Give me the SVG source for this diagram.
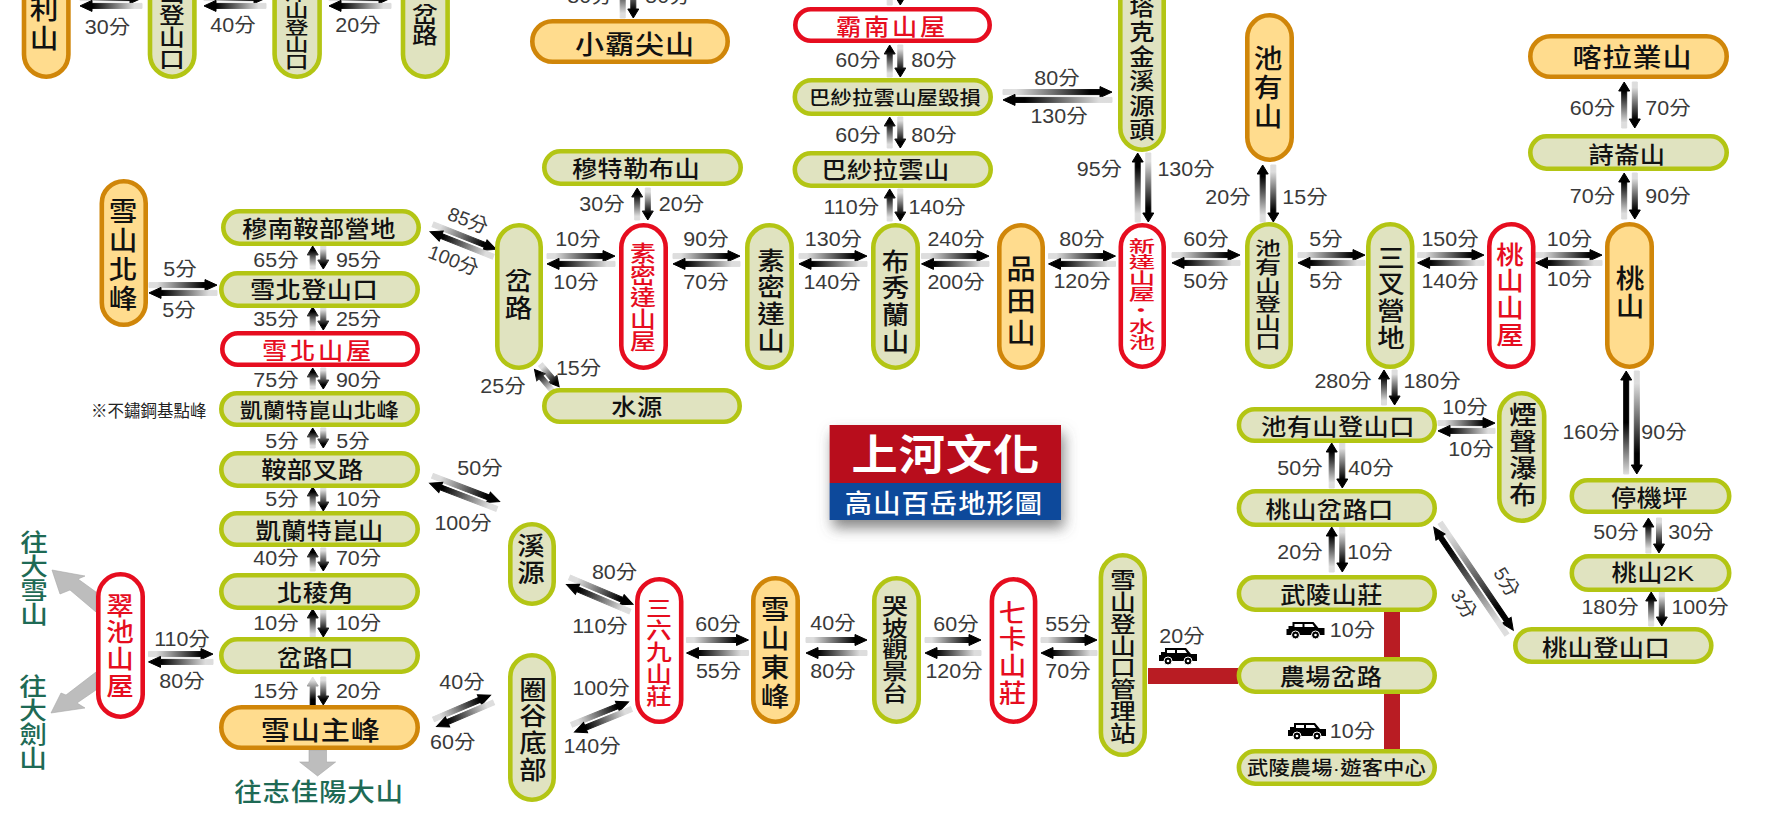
<svg xmlns="http://www.w3.org/2000/svg" width="1765" height="823" viewBox="0 0 1765 823">
<style>
.g{fill:#e0e3c0;stroke:#b3c514;stroke-width:4.6}
.o{fill:#ffdc8e;stroke:#d08609;stroke-width:4.6}
.r{fill:#fff;stroke:#e60d1f;stroke-width:4.6}
text{text-anchor:middle;dominant-baseline:central;font-family:"Noto Sans CJK TC","Noto Sans CJK SC",sans-serif;transform-box:fill-box;transform-origin:center}
.t{font-size:22.5px;letter-spacing:.4px;font-weight:500;fill:#111;transform:scaleX(1.12)}
.x{font-family:"Liberation Sans","Noto Sans CJK TC",sans-serif}
.m{font-size:26px;letter-spacing:.8px}
.p{font-size:19px;letter-spacing:.2px}
.q{font-size:20px;letter-spacing:.3px}
.red{fill:#e60d1f}
.h{font-size:22.5px;letter-spacing:2.5px}
.v{writing-mode:vertical-rl;transform:none}
.v24{font-size:25px;letter-spacing:1.7px;transform:scaleX(1.1)}
.v26{font-size:26.5px;letter-spacing:2.5px;transform:scaleX(1.08)}
.v21{font-size:21.5px;letter-spacing:.4px;transform:scaleX(1.2)}
.v18{font-size:18.5px;letter-spacing:.1px;transform:scaleX(1.4)}
.v16{font-size:16px;letter-spacing:0;transform:scaleX(1.65)}
.l{font-family:"Liberation Sans","Noto Sans CJK TC",sans-serif;font-size:19.5px;fill:#3a3a3a}
.l:not([transform]){transform:scaleX(1.1)}
.l[transform]{transform-box:view-box;transform-origin:0 0}
.dest{font-size:24px;fill:#1e6a55;font-weight:500}
.dest.v{transform:scaleX(1.15)}
.f{fill:url(#gf);stroke:url(#gf)}.b{fill:url(#gb);stroke:url(#gb)}.k{fill:url(#gk);stroke:url(#gk)}
.bar{fill:#b91c23}
.out{fill:#bdbdbd;stroke:#a8a8a8;stroke-width:.6}
</style>
<defs>
<linearGradient id="gf"><stop offset=".12" stop-color="#ddd"/><stop offset=".8" stop-color="#000"/></linearGradient>
<linearGradient id="gb"><stop offset=".2" stop-color="#000"/><stop offset=".88" stop-color="#ddd"/></linearGradient>
<linearGradient id="gk"><stop offset="0" stop-color="#ddd"/><stop offset=".5" stop-color="#000"/></linearGradient>
<filter id="sh" x="-20%" y="-30%" width="140%" height="170%"><feDropShadow dx="3" dy="8" stdDeviation="7" flood-color="#555" flood-opacity=".7"/></filter>
<g id="jeep"><path d="M3 4H7V0H28L33 6H39V13H1V7H3Z" fill="#000"/><path d="M9 2H17V5H9ZM19 2H27L29 5H19Z" fill="#fff"/><circle cx="10" cy="13" r="4" fill="#000" stroke="#fff"/><circle cx="30" cy="13" r="4" fill="#000" stroke="#fff"/><circle cx="10" cy="13" r="1.300" fill="#fff"/><circle cx="30" cy="13" r="1.300" fill="#fff"/></g>
</defs>
<rect width="1765" height="823" fill="#fff"/>
<g id="connectors">
<g transform="translate(80 2)"><path class="f" d="M0-6.4h50v-3l12 5.500-12 5.500v-3H0z"/><path class="b" d="M0 3.900l12-5.500v3h50v5H12v3z"/></g>
<g transform="translate(204 2)"><path class="f" d="M0-6.4h50v-3l12 5.500-12 5.500v-3H0z"/><path class="b" d="M0 3.900l12-5.500v3h50v5H12v3z"/></g>
<g transform="translate(329 2)"><path class="f" d="M0-6.4h50v-3l12 5.500-12 5.500v-3H0z"/><path class="b" d="M0 3.900l12-5.500v3h50v5H12v3z"/></g>
<g transform="translate(149 289)"><path class="f" d="M0-6.4h56v-3l12 5.500-12 5.500v-3H0z"/><path class="b" d="M0 3.900l12-5.500v3h56v5H12v3z"/></g>
<g transform="translate(148.500 658)"><path class="f" d="M0-6.4h52.500v-3l12 5.500-12 5.500v-3H0z"/><path class="b" d="M0 3.900l12-5.500v3h52.500v5H12v3z"/></g>
<g transform="translate(547 260)"><path class="f" d="M0-6.4h56v-3l12 5.500-12 5.500v-3H0z"/><path class="b" d="M0 3.900l12-5.500v3h56v5H12v3z"/></g>
<g transform="translate(673 260)"><path class="f" d="M0-6.4h55v-3l12 5.500-12 5.500v-3H0z"/><path class="b" d="M0 3.900l12-5.500v3h55v5H12v3z"/></g>
<g transform="translate(799 260)"><path class="f" d="M0-6.4h56v-3l12 5.500-12 5.500v-3H0z"/><path class="b" d="M0 3.900l12-5.500v3h56v5H12v3z"/></g>
<g transform="translate(921.500 260)"><path class="f" d="M0-6.4h55.500v-3l12 5.500-12 5.500v-3H0z"/><path class="b" d="M0 3.900l12-5.500v3h55.500v5H12v3z"/></g>
<g transform="translate(1048.500 260)"><path class="f" d="M0-6.4h55v-3l12 5.500-12 5.500v-3H0z"/><path class="b" d="M0 3.900l12-5.500v3h55v5H12v3z"/></g>
<g transform="translate(1172 259)"><path class="f" d="M0-6.4h56v-3l12 5.500-12 5.500v-3H0z"/><path class="b" d="M0 3.900l12-5.500v3h56v5H12v3z"/></g>
<g transform="translate(1298 259)"><path class="f" d="M0-6.4h55v-3l12 5.500-12 5.500v-3H0z"/><path class="b" d="M0 3.900l12-5.500v3h55v5H12v3z"/></g>
<g transform="translate(1417.600 259)"><path class="f" d="M0-6.4h54.400v-3l12 5.500-12 5.500v-3H0z"/><path class="b" d="M0 3.900l12-5.500v3h54.400v5H12v3z"/></g>
<g transform="translate(1535.500 259)"><path class="f" d="M0-6.4h54.500v-3l12 5.500-12 5.500v-3H0z"/><path class="b" d="M0 3.900l12-5.500v3h54.500v5H12v3z"/></g>
<g transform="translate(1003 96)"><path class="f" d="M0-6.4h97v-3l12 5.500-12 5.500v-3H0z"/><path class="b" d="M0 3.900l12-5.500v3h97v5H12v3z"/></g>
<g transform="translate(1438 427)"><path class="f" d="M0-6.4h45v-3l12 5.500-12 5.500v-3H0z"/><path class="b" d="M0 3.900l12-5.500v3h45v5H12v3z"/></g>
<g transform="translate(431.500 228) rotate(21.6)"><path class="f" d="M0-6.4h56v-3l12 5.500-12 5.500v-3H0z"/><path class="b" d="M0 3.900l12-5.500v3h56v5H12v3z"/></g>
<g transform="translate(537.500 367) rotate(50)"><path class="f" d="M0-6.4h19v-3l10 5.500-10 5.500v-3H0z"/><path class="b" d="M0 3.900l10-5.500v3h19v5H10v3z"/></g>
<g transform="translate(431 479.500) rotate(21)"><path class="f" d="M0-6.4h60v-3l12 5.500-12 5.500v-3H0z"/><path class="b" d="M0 3.900l12-5.500v3h60v5H12v3z"/></g>
<g transform="translate(568 581) rotate(23)"><path class="f" d="M0-6.4h57v-3l12 5.500-12 5.500v-3H0z"/><path class="b" d="M0 3.900l12-5.500v3h57v5H12v3z"/></g>
<g transform="translate(435 723) rotate(-23)"><path class="f" d="M0-6.4h50v-3l12 5.500-12 5.500v-3H0z"/><path class="b" d="M0 3.900l12-5.500v3h50v5H12v3z"/></g>
<g transform="translate(573 728.500) rotate(-22)"><path class="f" d="M0-6.4h49.500v-3l12 5.500-12 5.500v-3H0z"/><path class="b" d="M0 3.900l12-5.500v3h49.500v5H12v3z"/></g>
<g transform="translate(1437 525) rotate(55.8)"><path class="f" d="M0-6.4h118v-3l12 5.500-12 5.500v-3H0z"/><path class="b" d="M0 3.900l12-5.500v3h118v5H12v3z"/></g>
<g transform="translate(686.500 646.500)"><path class="f" d="M0-9h50v-3l12 5.500-12 5.500v-3H0z"/><path class="b" d="M0 6.500l12-5.500v3h50v5H12v3z"/></g>
<g transform="translate(806 646.500)"><path class="f" d="M0-9h49v-3l12 5.500-12 5.500v-3H0z"/><path class="b" d="M0 6.500l12-5.500v3h49v5H12v3z"/></g>
<g transform="translate(925 646.500)"><path class="f" d="M0-9h44v-3l12 5.500-12 5.500v-3H0z"/><path class="b" d="M0 6.500l12-5.500v3h44v5H12v3z"/></g>
<g transform="translate(1041 646.500)"><path class="f" d="M0-9h44v-3l12 5.500-12 5.500v-3H0z"/><path class="b" d="M0 6.500l12-5.500v3h44v5H12v3z"/></g>
<g transform="translate(318 269) rotate(-90)"><path class="f" d="M0-7.800h14v-3l9 5.500-9 5.500v-3H0z"/><path class="b" d="M0 5.300l9-5.500v3h14v5H9v3z"/></g>
<g transform="translate(318 330) rotate(-90)"><path class="f" d="M0-7.800h14v-3l9 5.500-9 5.500v-3H0z"/><path class="b" d="M0 5.300l9-5.500v3h14v5H9v3z"/></g>
<g transform="translate(318 389) rotate(-90)"><path class="f" d="M0-7.800h12v-3l9 5.500-9 5.500v-3H0z"/><path class="b" d="M0 5.300l9-5.500v3h12v5H9v3z"/></g>
<g transform="translate(318 448) rotate(-90)"><path class="f" d="M0-7.800h11v-3l9 5.500-9 5.500v-3H0z"/><path class="b" d="M0 5.300l9-5.500v3h11v5H9v3z"/></g>
<g transform="translate(318 511) rotate(-90)"><path class="f" d="M0-7.800h15v-3l9 5.500-9 5.500v-3H0z"/><path class="b" d="M0 5.300l9-5.500v3h15v5H9v3z"/></g>
<g transform="translate(318 571) rotate(-90)"><path class="f" d="M0-7.800h14v-3l9 5.500-9 5.500v-3H0z"/><path class="b" d="M0 5.300l9-5.500v3h14v5H9v3z"/></g>
<g transform="translate(318 637) rotate(-90)"><path class="f" d="M0-7.800h19v-3l9 5.500-9 5.500v-3H0z"/><path class="b" d="M0 5.300l9-5.500v3h19v5H9v3z"/></g>
<g transform="translate(318 705) rotate(-90)"><path class="b" d="M0-7.800h19v-3l9 5.500-9 5.500v-3H0z"/><path class="b" d="M0 5.300l9-5.500v3h19v5H9v3z"/></g>
<g transform="translate(642.500 220) rotate(-90)"><path class="f" d="M0-7.800h23v-3l9 5.500-9 5.500v-3H0z"/><path class="b" d="M0 5.300l9-5.500v3h23v5H9v3z"/></g>
<g transform="translate(895 77) rotate(-90)"><path class="f" d="M0-7.800h23v-3l9 5.500-9 5.500v-3H0z"/><path class="b" d="M0 5.300l9-5.500v3h23v5H9v3z"/></g>
<g transform="translate(895 148) rotate(-90)"><path class="f" d="M0-7.800h22v-3l9 5.500-9 5.500v-3H0z"/><path class="b" d="M0 5.300l9-5.500v3h22v5H9v3z"/></g>
<g transform="translate(895 221) rotate(-90)"><path class="f" d="M0-7.800h23v-3l9 5.500-9 5.500v-3H0z"/><path class="b" d="M0 5.300l9-5.500v3h23v5H9v3z"/></g>
<g transform="translate(895 5) rotate(-90)"><path class="f" d="M0-7.800h31v-3l9 5.500-9 5.500v-3H0z"/><path class="b" d="M0 5.300l9-5.500v3h31v5H9v3z"/></g>
<g transform="translate(628 18) rotate(-90)"><path class="f" d="M0-7.800h31v-3l9 5.500-9 5.500v-3H0z"/><path class="b" d="M0 5.300l9-5.500v3h31v5H9v3z"/></g>
<g transform="translate(1143 222) rotate(-90)"><path class="f" d="M0-7.800h60v-3l9 5.500-9 5.500v-3H0z"/><path class="b" d="M0 5.300l9-5.500v3h60v5H9v3z"/></g>
<g transform="translate(1268 222) rotate(-90)"><path class="f" d="M0-7.800h48v-3l9 5.500-9 5.500v-3H0z"/><path class="b" d="M0 5.300l9-5.500v3h48v5H9v3z"/></g>
<g transform="translate(1629.500 128) rotate(-90)"><path class="f" d="M0-7.800h37v-3l9 5.500-9 5.500v-3H0z"/><path class="b" d="M0 5.300l9-5.500v3h37v5H9v3z"/></g>
<g transform="translate(1629.500 219) rotate(-90)"><path class="f" d="M0-7.800h37v-3l9 5.500-9 5.500v-3H0z"/><path class="b" d="M0 5.300l9-5.500v3h37v5H9v3z"/></g>
<g transform="translate(1389.300 405) rotate(-90)"><path class="f" d="M0-7.800h26v-3l9 5.500-9 5.500v-3H0z"/><path class="b" d="M0 5.300l9-5.500v3h26v5H9v3z"/></g>
<g transform="translate(1631.500 474) rotate(-90)"><path class="k" d="M0-7.800h94v-3l9 5.500-9 5.500v-3H0z"/><path class="b" d="M0 5.300l9-5.500v3h94v5H9v3z"/></g>
<g transform="translate(1337 488) rotate(-90)"><path class="f" d="M0-7.800h36v-3l9 5.500-9 5.500v-3H0z"/><path class="b" d="M0 5.300l9-5.500v3h36v5H9v3z"/></g>
<g transform="translate(1337 572) rotate(-90)"><path class="f" d="M0-7.800h36v-3l9 5.500-9 5.500v-3H0z"/><path class="b" d="M0 5.300l9-5.500v3h36v5H9v3z"/></g>
<g transform="translate(1653.700 553) rotate(-90)"><path class="f" d="M0-7.800h26v-3l9 5.500-9 5.500v-3H0z"/><path class="b" d="M0 5.300l9-5.500v3h26v5H9v3z"/></g>
<g transform="translate(1656.500 626) rotate(-90)"><path class="f" d="M0-7.800h25v-3l9 5.500-9 5.500v-3H0z"/><path class="b" d="M0 5.300l9-5.500v3h25v5H9v3z"/></g>
<rect class="bar" x="1384" y="610" width="16" height="142"/>
<rect class="bar" x="1148" y="668" width="90" height="16"/>
<polygon class="out" points="52,570 85,576 78,579 96,592 96,612 70,590 60,594"/>
<polygon class="out" points="96,672 96,690 77,703 85,708 51,713 61,693 66,695"/>
<polygon class="out" points="309,750 326.500,750 326.500,762 335.600,762 317.600,776 299.700,762 309,762"/>
<use href="#jeep" x="1285.500" y="622"/><use href="#jeep" x="1287" y="723"/><use href="#jeep" x="1158" y="648"/>
</g>
<g id="labels">
<text class="l" x="107.500" y="27">30分</text><text class="l" x="233" y="25">40分</text><text class="l" x="358" y="25">20分</text>
<text class="l" x="590" y="-4">80分</text><text class="l" x="668" y="-4">50分</text>
<text class="l" x="180" y="269">5分</text><text class="l" x="179" y="310">5分</text>
<text class="l" x="276" y="260">65分</text><text class="l" x="358.600" y="260">95分</text>
<text class="l" x="276" y="319">35分</text><text class="l" x="358.600" y="319">25分</text>
<text class="l" x="276" y="380">75分</text><text class="l" x="358.600" y="380">90分</text>
<text class="l" x="282" y="441">5分</text><text class="l" x="353" y="441">5分</text>
<text class="l" x="282" y="499">5分</text><text class="l" x="358.600" y="499">10分</text>
<text class="l" x="276" y="558">40分</text><text class="l" x="358.600" y="558">70分</text>
<text class="l" x="276" y="623">10分</text><text class="l" x="358.600" y="623">10分</text>
<text class="l" x="276" y="691">15分</text><text class="l" x="358.600" y="691">20分</text>
<text class="l" x="182" y="639">110分</text><text class="l" x="182" y="681">80分</text>
<text class="l" x="468" y="220" transform="rotate(21 468 220)">85分</text><text class="l" x="453.500" y="260" transform="rotate(21 453.500 260)">100分</text>
<text class="l" x="578.600" y="368">15分</text><text class="l" x="503" y="386">25分</text>
<text class="l" x="578" y="239">10分</text><text class="l" x="576" y="282">10分</text>
<text class="l" x="602" y="204">30分</text><text class="l" x="681.500" y="204">20分</text>
<text class="l" x="706" y="239">90分</text><text class="l" x="706" y="282">70分</text>
<text class="l" x="833.400" y="239">130分</text><text class="l" x="832" y="282">140分</text>
<text class="l" x="956" y="239">240分</text><text class="l" x="956" y="282">200分</text>
<text class="l" x="1082" y="239">80分</text><text class="l" x="1082" y="281">120分</text>
<text class="l" x="1206" y="239">60分</text><text class="l" x="1206" y="281">50分</text>
<text class="l" x="858" y="60">60分</text><text class="l" x="934" y="60">80分</text>
<text class="l" x="858" y="135">60分</text><text class="l" x="934" y="135">80分</text>
<text class="l" x="851.400" y="207">110分</text><text class="l" x="937" y="207">140分</text>
<text class="l" x="1057" y="78">80分</text><text class="l" x="1059" y="116">130分</text>
<text class="l" x="1099.400" y="169">95分</text><text class="l" x="1186" y="169">130分</text>
<text class="l" x="1228" y="197">20分</text><text class="l" x="1305" y="197">15分</text>
<text class="l" x="1326" y="239">5分</text><text class="l" x="1326" y="281">5分</text>
<text class="l" x="1450" y="239">150分</text><text class="l" x="1450" y="281">140分</text>
<text class="l" x="1569.500" y="239">10分</text><text class="l" x="1569.500" y="279">10分</text>
<text class="l" x="1592.500" y="108">60分</text><text class="l" x="1668" y="108">70分</text>
<text class="l" x="1592.500" y="196">70分</text><text class="l" x="1668" y="196">90分</text>
<text class="l" x="1343" y="381">280分</text><text class="l" x="1432" y="381">180分</text>
<text class="l" x="1591" y="432">160分</text><text class="l" x="1664" y="432">90分</text>
<text class="l" x="1465" y="407">10分</text><text class="l" x="1471" y="449">10分</text>
<text class="l" x="1300" y="468">50分</text><text class="l" x="1371" y="468">40分</text>
<text class="l" x="1300" y="552">20分</text><text class="l" x="1370" y="552">10分</text>
<text class="l" x="1352.500" y="630">10分</text><text class="l" x="1352.500" y="731">10分</text><text class="l" x="1182" y="636">20分</text>
<text class="l" x="1506.700" y="582" transform="rotate(58 1506.700 582)">5分</text><text class="l" x="1464" y="604" transform="rotate(58 1464 604)">3分</text>
<text class="l" x="1616" y="532">50分</text><text class="l" x="1691" y="532">30分</text>
<text class="l" x="1610" y="607">180分</text><text class="l" x="1700" y="607">100分</text>
<text class="l" x="480" y="468">50分</text><text class="l" x="463" y="523">100分</text>
<text class="l" x="614.600" y="572">80分</text><text class="l" x="600" y="626">110分</text>
<text class="l" x="462" y="682">40分</text><text class="l" x="452.700" y="742">60分</text>
<text class="l" x="601" y="688">100分</text><text class="l" x="592" y="746">140分</text>
<text class="l" x="718" y="624">60分</text><text class="l" x="718.600" y="671">55分</text>
<text class="l" x="833" y="623">40分</text><text class="l" x="833" y="671">80分</text>
<text class="l" x="956" y="624">60分</text><text class="l" x="954" y="671">120分</text>
<text class="l" x="1068" y="624">55分</text><text class="l" x="1068" y="671">70分</text>
<text x="148.700" y="410" style="font-size:16.500px;fill:#222">※不鏽鋼基點峰</text>
<text class="dest v" x="34" y="578">往大雪山</text>
<text class="dest v" x="33" y="722">往大劍山</text>
<text class="dest" x="319" y="791" style="font-size:25px;letter-spacing:.7px;transform:scaleX(1.1)">往志佳陽大山</text>
</g>
<g id="n01"><rect class="o" x="24" y="-60" width="44.400" height="136.700" rx="22.200"/><text class="t v v26" x="44" y="10">加利山</text></g>
<g id="n02"><rect class="g" x="150" y="-60" width="44.400" height="136.700" rx="22.200"/><text class="t v v21" x="172" y="4">加利山登山口</text></g>
<g id="n03"><rect class="g" x="274.600" y="-60" width="45" height="136.700" rx="22.500"/><text class="t v v18" x="296.600" y="19" style="font-size:17px">伊澤山登山口</text></g>
<g id="n04"><rect class="g" x="403" y="-60" width="44.600" height="136.700" rx="22.300"/><text class="t v v21" x="425" y="24.500">岔路</text></g>
<g id="n05"><rect class="o" x="532.300" y="21.300" width="195.400" height="40.400" rx="20.200"/><text class="t m" x="635" y="43">小霸尖山</text></g>
<g id="n06"><rect class="o" x="101.800" y="181.300" width="43.900" height="143.400" rx="22"/><text class="t v v26" x="123" y="256">雪山北峰</text></g>
<g id="n07"><rect class="g" x="223.300" y="211.300" width="195.400" height="32.400" rx="16.200"/><text class="t" x="319" y="227">穆南鞍部營地</text></g>
<g id="n08"><rect class="g" x="221.300" y="273.300" width="196.400" height="32.400" rx="16.200"/><text class="t" x="314" y="288.500">雪北登山口</text></g>
<g id="n09"><rect class="r" x="222.300" y="333.300" width="195.400" height="31.400" rx="15.700"/><text class="t h red" x="318" y="349">雪北山屋</text></g>
<g id="n10"><rect class="g" x="221.300" y="393.300" width="196.400" height="31.400" rx="15.700"/><text class="t q" x="319.600" y="409">凱蘭特崑山北峰</text></g>
<g id="n11"><rect class="g" x="221.300" y="453.300" width="196.400" height="32.400" rx="16.200"/><text class="t" x="312.500" y="468">鞍部叉路</text></g>
<g id="n12"><rect class="g" x="221.300" y="513.300" width="196.400" height="31.400" rx="15.700"/><text class="t" x="319.600" y="529">凱蘭特崑山</text></g>
<g id="n13"><rect class="g" x="221.300" y="575.300" width="196.400" height="32.400" rx="16.200"/><text class="t" x="315.500" y="591">北稜角</text></g>
<g id="n14"><rect class="g" x="221.300" y="639.300" width="196.400" height="32.400" rx="16.200"/><text class="t" x="315.500" y="656">岔路口</text></g>
<g id="n15"><rect class="o" x="221.300" y="707.300" width="196.400" height="40.400" rx="20.200"/><text class="t m" x="320.700" y="729">雪山主峰</text></g>
<g id="n16"><rect class="r" x="98.300" y="574.300" width="44.400" height="142.400" rx="22.200"/><text class="t v v24 red" x="120" y="646">翠池山屋</text></g>
<g id="n17"><rect class="g" x="497.300" y="225.300" width="43.400" height="142.400" rx="21.700"/><text class="t v v24" x="518.600" y="295">岔路</text></g>
<g id="n18"><rect class="g" x="544.300" y="151.300" width="196.400" height="32.400" rx="16.200"/><text class="t" x="636" y="167">穆特勒布山</text></g>
<g id="n19"><rect class="g" x="544.300" y="390.300" width="195.400" height="31.400" rx="15.700"/><text class="t" x="637" y="405">水源</text></g>
<g id="n20"><rect class="r" x="621.300" y="225.300" width="44.400" height="142.400" rx="22.200"/><text class="t v v21 red" x="643" y="297">素密達山屋</text></g>
<g id="n21"><rect class="g" x="747.300" y="225.300" width="44.400" height="142.400" rx="22.200"/><text class="t v v24" x="771" y="301">素密達山</text></g>
<g id="n22"><rect class="g" x="873.300" y="225.300" width="44.400" height="142.400" rx="22.200"/><text class="t v v24" x="895.400" y="302">布秀蘭山</text></g>
<g id="n23"><rect class="o" x="999.300" y="225.300" width="43.400" height="142.400" rx="21.700"/><text class="t v v26" x="1021" y="303" style="font-size:27px;letter-spacing:5px">品田山</text></g>
<g id="n24"><rect class="r" x="1120.800" y="225.300" width="42.900" height="141.400" rx="21.400"/><text class="t v v16 red" x="1142" y="294">新達山屋·水池</text></g>
<g id="n25"><rect class="g" x="1120.300" y="-60" width="43.400" height="209.700" rx="21.700"/><text class="t v v24" x="1142" y="69" style="font-size:23px;letter-spacing:1.600px">塔克金溪源頭</text></g>
<g id="n26"><rect class="r" x="795.300" y="9.300" width="194.400" height="31.400" rx="15.700"/><text class="t h red" x="892" y="25">霸南山屋</text></g>
<g id="n27"><rect class="g" x="794.800" y="80.300" width="195.900" height="33.400" rx="16.700"/><text class="t p" x="895" y="97">巴紗拉雲山屋毀損</text></g>
<g id="n28"><rect class="g" x="794.800" y="153.300" width="195.900" height="32.400" rx="16.200"/><text class="t" x="885.500" y="168">巴紗拉雲山</text></g>
<g id="n29"><rect class="o" x="1247.300" y="15.300" width="44.400" height="144.400" rx="22.200"/><text class="t v v26" x="1268" y="88.500">池有山</text></g>
<g id="n30"><rect class="g" x="1247.300" y="224.300" width="43.400" height="142.400" rx="21.700"/><text class="t v v18" x="1268" y="295">池有山登山口</text></g>
<g id="n31"><rect class="g" x="1368.300" y="224.300" width="43.900" height="142.400" rx="22"/><text class="t v v24" x="1391" y="298">三叉營地</text></g>
<g id="n32"><rect class="r" x="1489.300" y="224.300" width="43.900" height="142.400" rx="22"/><text class="t v v24 red" x="1510" y="295">桃山山屋</text></g>
<g id="n33"><rect class="o" x="1607.300" y="224.300" width="44.400" height="142.400" rx="22.200"/><text class="t v v26" x="1630" y="292.500" style="letter-spacing:1px">桃山</text></g>
<g id="n34"><rect class="o" x="1530.300" y="36.300" width="196.400" height="40.400" rx="20.200"/><text class="t m" x="1632.500" y="56">喀拉業山</text></g>
<g id="n35"><rect class="g" x="1530.300" y="136.300" width="196.400" height="32.400" rx="16.200"/><text class="t" x="1627" y="153">詩崙山</text></g>
<g id="n36"><rect class="g" x="1238.900" y="409.300" width="195.800" height="31.400" rx="15.700"/><text class="t" x="1338" y="425">池有山登山口</text></g>
<g id="n37"><rect class="g" x="1499.300" y="393.300" width="44.900" height="127.400" rx="22.400"/><text class="t v v24" x="1523" y="455.500">煙聲瀑布</text></g>
<g id="n38"><rect class="g" x="1238.900" y="491.300" width="195.800" height="33.400" rx="16.700"/><text class="t" x="1329.600" y="508">桃山岔路口</text></g>
<g id="n39"><rect class="g" x="1238.900" y="577.300" width="195.800" height="32.400" rx="16.200"/><text class="t" x="1331.500" y="593">武陵山莊</text></g>
<g id="n40"><rect class="g" x="1238.900" y="659.300" width="195.800" height="32.400" rx="16.200"/><text class="t" x="1331" y="675">農場岔路</text></g>
<g id="n41"><rect class="g" x="1238.900" y="751.300" width="195.800" height="32.400" rx="16.200"/><text class="t p x" x="1336.500" y="768">武陵農場·遊客中心</text></g>
<g id="n42"><rect class="g" x="1515.300" y="629.300" width="196" height="32.400" rx="16.200"/><text class="t" x="1606" y="646">桃山登山口</text></g>
<g id="n43"><rect class="g" x="1571.800" y="480.300" width="157.400" height="31.400" rx="15.700"/><text class="t" x="1649.500" y="496">停機坪</text></g>
<g id="n44"><rect class="g" x="1571.800" y="556.300" width="157.400" height="33.400" rx="16.700"/><text class="t x" x="1653" y="573">桃山2K</text></g>
<g id="n45"><rect class="g" x="510.300" y="524.300" width="43.400" height="79.400" rx="21.700"/><text class="t v v24" x="531" y="560">溪源</text></g>
<g id="n46"><rect class="g" x="510.300" y="655.300" width="43.400" height="144.400" rx="21.700"/><text class="t v v24" x="533" y="730">圈谷底部</text></g>
<g id="n47"><rect class="r" x="637.300" y="579.300" width="43.900" height="142.400" rx="22"/><text class="t v v21 red" x="659" y="652">三六九山莊</text></g>
<g id="n48"><rect class="o" x="753.300" y="578.300" width="44.400" height="143.400" rx="22.200"/><text class="t v v26" x="775" y="653.500">雪山東峰</text></g>
<g id="n49"><rect class="g" x="874.300" y="578.300" width="44.400" height="143.400" rx="22.200"/><text class="t v v21" x="895" y="649.500">哭坡觀景台</text></g>
<g id="n50"><rect class="r" x="991.900" y="579.300" width="43.200" height="142.400" rx="21.600"/><text class="t v v24 red" x="1012.500" y="653">七卡山莊</text></g>
<g id="n51"><rect class="g" x="1100.900" y="555.300" width="43.800" height="199.400" rx="21.900"/><text class="t v v21" x="1123" y="656.500">雪山登山口管理站</text></g>
<g id="logo">
<g filter="url(#sh)"><rect x="829.600" y="425" width="231.400" height="58" fill="#b8101c"/><rect x="829.600" y="483" width="231.400" height="37" fill="#0a4a9b"/></g>
<text x="946" y="452" style="font-size:42px;font-weight:700;fill:#fff;letter-spacing:1px;transform:scaleX(1.1)">上河文化</text>
<text x="944" y="502" style="font-size:26px;font-weight:500;fill:#fff;letter-spacing:1px;transform:scaleX(1.05)">高山百岳地形圖</text>
</g>
</svg>
